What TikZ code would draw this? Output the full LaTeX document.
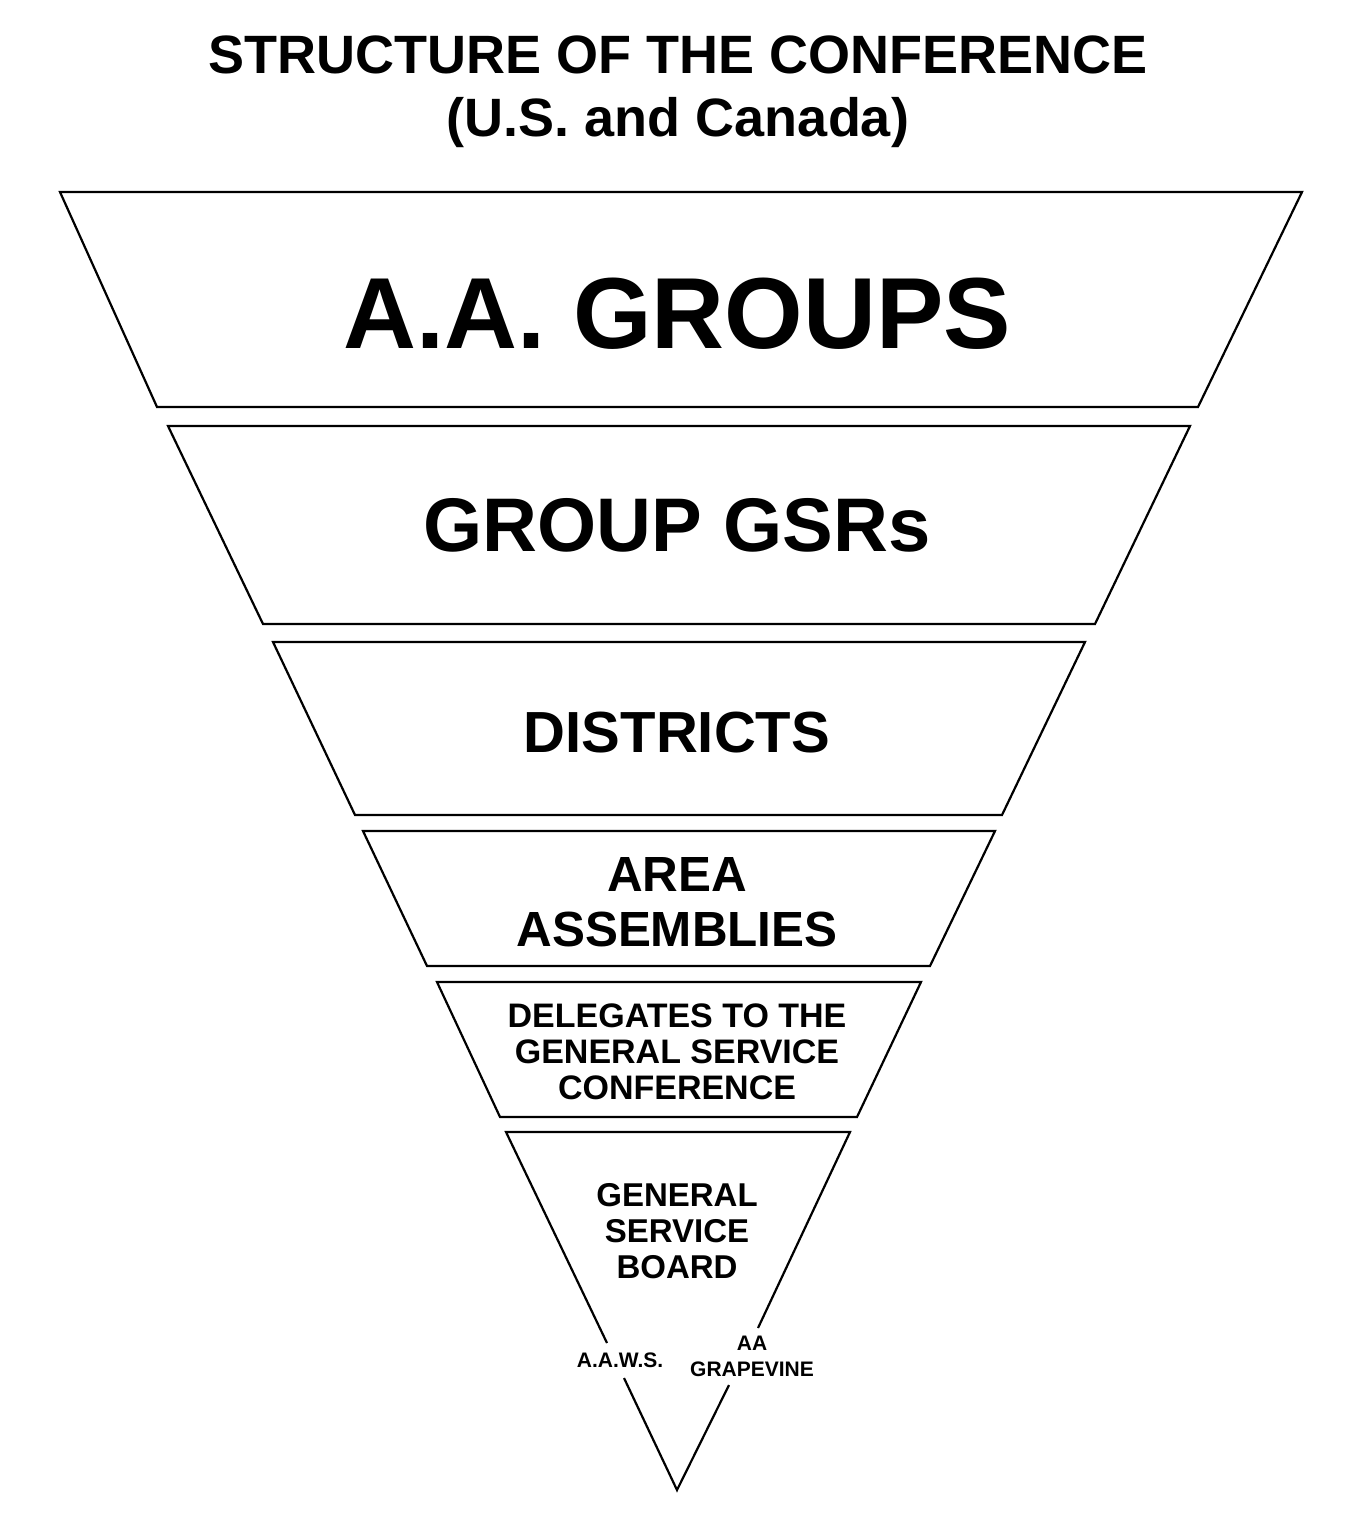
\documentclass[tikz,border=0pt]{standalone}
\usepackage{fontspec}
\setmainfont{Liberation Sans}
\begin{document}
\begin{tikzpicture}[x=0.5pt,y=-0.5pt,line width=1.1pt,
  lbl/.style={font=\bfseries,align=center,inner sep=0pt}]
\useasboundingbox (0,0) rectangle (1360,1519);
\node[lbl,font=\fontsize{27}{31.5}\selectfont\bfseries] (title) at (678,92) {STRUCTURE OF THE CONFERENCE\\(U.S. and Canada)};
\draw (60,192) -- (1302,192) -- (1198,407) -- (157,407) -- cycle;
\draw (168,426) -- (1190,426) -- (1095,624) -- (263,624) -- cycle;
\draw (273,642) -- (1085,642) -- (1002,815) -- (355,815) -- cycle;
\draw (363,831) -- (995,831) -- (930,966) -- (427,966) -- cycle;
\draw (437,982) -- (921,982) -- (857,1117) -- (500,1117) -- cycle;
\coordinate (apex) at (677,1490);
\coordinate (tl) at (506,1132); \coordinate (tr) at (850,1132);
\draw (607,1343) -- (tl) -- (tr) -- (758,1328);
\draw (624,1378) -- (apex) -- (729,1385);
\node[lbl,font=\fontsize{50.5}{52}\selectfont\bfseries] (g1) at (677,314) {A.A. GROUPS};
\node[lbl,font=\fontsize{38}{42}\selectfont\bfseries] (g2) at (677,525) {GROUP GSRs};
\node[lbl,font=\fontsize{29}{33}\selectfont\bfseries] (g3) at (677,733) {DISTRICTS};
\node[lbl,font=\fontsize{24.7}{27.5}\selectfont\bfseries] (g4) at (677,902) {AREA\\ASSEMBLIES};
\node[lbl,font=\fontsize{17}{18}\selectfont\bfseries] (g5) at (677,1052) {DELEGATES TO THE\\GENERAL SERVICE\\CONFERENCE};
\node[lbl,font=\fontsize{16.5}{18}\selectfont\bfseries] (g6) at (677,1231) {GENERAL\\SERVICE\\BOARD};
\node[lbl,font=\fontsize{10.5}{13}\selectfont\bfseries] (aaws) at (620,1360) {A.A.W.S.};
\node[lbl,font=\fontsize{10.5}{13}\selectfont\bfseries] (gv) at (752,1356) {AA\\GRAPEVINE};
\end{tikzpicture}
\end{document}
